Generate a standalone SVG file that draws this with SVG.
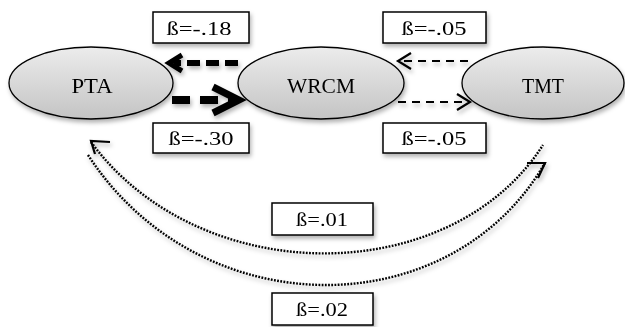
<svg xmlns="http://www.w3.org/2000/svg" width="625" height="327" viewBox="0 0 625 327">
<defs>
<linearGradient id="g" x1="0" y1="0" x2="0" y2="1">
<stop offset="0" stop-color="#ececec"/>
<stop offset="1" stop-color="#c4c4c4"/>
</linearGradient>
<filter id="sh" x="-20%" y="-20%" width="140%" height="160%">
<feDropShadow dx="1.5" dy="3" stdDeviation="2" flood-color="#000" flood-opacity="0.3"/>
</filter>
</defs>
<style>
.node ellipse{fill:url(#g);stroke:#000;stroke-width:1.3}
.lbl{font-family:"Liberation Serif","Times New Roman",serif;font-size:20px;text-anchor:middle;fill:#000}
.box rect{fill:#fff;stroke:#000;stroke-width:1.5}
.box text{font-family:"Liberation Serif","Times New Roman",serif;font-size:19px;text-anchor:middle;fill:#000}
.head{fill:none;stroke:#000;stroke-linecap:butt;stroke-linejoin:miter}
.dot{fill:none;stroke:#000;stroke-width:2.4;stroke-dasharray:1.8 1.4}
</style>
<g id="connectors" filter="url(#sh)">
<path d="M238,63 L174,63" stroke="#000" stroke-width="6" stroke-dasharray="13 6" fill="none"/>
<path class="head" d="M182,55 L169,63 L182,71" stroke-width="5"/>
<path d="M172,100 L236,100" stroke="#000" stroke-width="8" stroke-dasharray="18 10" fill="none"/>
<path class="head" d="M213,87 L239,100 L213,113" stroke-width="7"/>
<path d="M468,61 L400,61" stroke="#000" stroke-width="2.2" stroke-dasharray="8 6" fill="none"/>
<path class="head" d="M411,53 L398,61 L411,69" stroke-width="2.2"/>
<path d="M398,102 L467,102" stroke="#000" stroke-width="2.2" stroke-dasharray="8 6" fill="none"/>
<path class="head" d="M457,94 L470,102 L457,110" stroke-width="2.2"/>
<path class="dot" d="M91,142 C200,290 450,290 543,145"/>
<path class="head" d="M110,142 L91,141 L95,154" stroke-width="2.2"/>
<path class="dot" d="M88,155 C200,327 450,327 545,163"/>
<path class="head" d="M527,163 L545,163 L538,178" stroke-width="2.2"/>
</g>
<g id="PTA" class="node" filter="url(#sh)"><ellipse cx="91" cy="83" rx="82" ry="36"/><text class="lbl" x="92" y="93" textLength="41" lengthAdjust="spacingAndGlyphs">PTA</text></g>
<g id="WRCM" class="node" filter="url(#sh)"><ellipse cx="321" cy="83" rx="83" ry="36"/><text class="lbl" x="321" y="93" textLength="68" lengthAdjust="spacingAndGlyphs">WRCM</text></g>
<g id="TMT" class="node" filter="url(#sh)"><ellipse cx="543" cy="83" rx="81" ry="36"/><text class="lbl" x="543" y="93" textLength="42" lengthAdjust="spacingAndGlyphs">TMT</text></g>
<g id="b1" class="box" filter="url(#sh)"><rect x="153" y="12" width="96" height="31"/><text x="199" y="35" textLength="65" lengthAdjust="spacingAndGlyphs">ß=-.18</text></g>
<g id="b2" class="box" filter="url(#sh)"><rect x="153" y="123" width="96" height="30"/><text x="201" y="145" textLength="65" lengthAdjust="spacingAndGlyphs">ß=-.30</text></g>
<g id="b3" class="box" filter="url(#sh)"><rect x="383" y="12" width="103" height="31"/><text x="434" y="35" textLength="65" lengthAdjust="spacingAndGlyphs">ß=-.05</text></g>
<g id="b4" class="box" filter="url(#sh)"><rect x="383" y="123" width="103" height="30"/><text x="434" y="145" textLength="65" lengthAdjust="spacingAndGlyphs">ß=-.05</text></g>
<g id="b5" class="box" filter="url(#sh)"><rect x="272" y="203" width="101" height="32"/><text x="322" y="226" textLength="52" lengthAdjust="spacingAndGlyphs">ß=.01</text></g>
<g id="b6" class="box" filter="url(#sh)"><rect x="272" y="293" width="101" height="32"/><text x="322" y="316" textLength="52" lengthAdjust="spacingAndGlyphs">ß=.02</text></g>
</svg>
